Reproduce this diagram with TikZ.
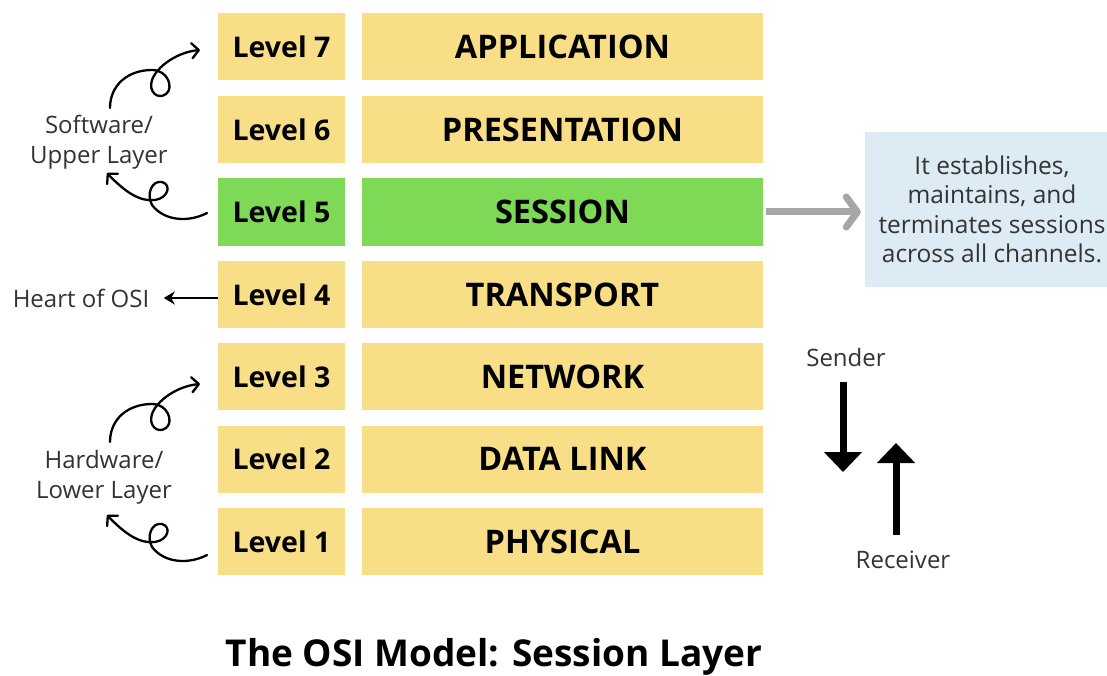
\documentclass[tikz,border=0pt]{standalone}
\usepackage{fontspec}
\setmainfont{Open Sans}
\usetikzlibrary{arrows.meta}
\definecolor{lvlyellow}{HTML}{F8DF87}
\definecolor{lvlgreen}{HTML}{7ED957}
\definecolor{notebg}{HTML}{DDEBF5}
\definecolor{txtgray}{HTML}{333333}
\definecolor{arrgray}{HTML}{A6A6A6}
\tikzset{
  curl/.style={line width=2.3pt, line cap=round, -{Straight Barb[length=7pt,width=15pt,round]}},
  upcurl/.pic={\draw[curl] (0,0) .. controls (0,-23) and (18,-38) .. (42,-38)
      .. controls (58,-38) and (64,-20) .. (56,-14)
      .. controls (48,-8) and (38,-16) .. (42,-28)
      .. controls (47,-42) and (68,-56) .. (90,-58);},
  downcurl/.pic={\draw[curl] (0,0) .. controls (-17,9) and (-42,9) .. (-55,-8)
      .. controls (-61,-19) and (-55,-33) .. (-45,-31)
      .. controls (-35,-28) and (-39,-15) .. (-52,-13)
      .. controls (-67,-11) and (-82,-21) .. (-100,-40);},
}
\begin{document}
\begin{tikzpicture}[x=1pt,y=-1pt,
  layer/.style={fill=lvlyellow, minimum height=67pt, inner sep=0pt},
  lvl/.style={layer, minimum width=127pt, font=\bfseries\fontsize{28.5}{32}\selectfont},
  lname/.style={layer, minimum width=401pt, font=\bfseries\fontsize{32.5}{36}\selectfont},
  active/.style={fill=lvlgreen},
  side/.style={font=\fontsize{24}{30}\selectfont, text=txtgray, align=center},
]
\useasboundingbox (0,0) rectangle (1107,676);
\fill[white] (0,0) rectangle (1107,676);

% level column and layer names
\node[lvl] (l7) at (281.5,47) {Level 7};
\node[lname] (n7) at (562.5,47) {APPLICATION};
\node[lvl] (l6) at (281.5,129.5) {Level 6};
\node[lname] (n6) at (562.5,129.5) {PRESENTATION};
\node[lvl,active] (l5) at (281.5,212) {Level 5};
\node[lname,active] (n5) at (562.5,212) {SESSION};
\node[lvl] (l4) at (281.5,294.5) {Level 4};
\node[lname] (n4) at (562.5,294.5) {TRANSPORT};
\node[lvl] (l3) at (281.5,376.5) {Level 3};
\node[lname] (n3) at (562.5,376.5) {NETWORK};
\node[lvl] (l2) at (281.5,459) {Level 2};
\node[lname] (n2) at (562.5,459) {DATA LINK};
\node[lvl] (l1) at (281.5,541.5) {Level 1};
\node[lname] (n1) at (562.5,541.5) {PHYSICAL};

% description of the session layer
\node[fill=notebg, minimum width=254pt, minimum height=155pt, align=center,
  font=\fontsize{24.5}{29.3}\selectfont, text=txtgray] (note) at (992,209.5)
  {It establishes,\\maintains, and\\terminates sessions\\across all channels.};
\draw[arrgray, line width=7pt, -{Straight Barb[length=11pt,width=30pt,round]}]
  (n5.east) ++(3,0) -- ([xshift=-4pt]note.west |- n5.east);

% side labels
\node[side] (sw) at (99,142) {Software/\\Upper Layer};
\node[side] (hw) at (104,477) {Hardware/\\Lower Layer};
\pic at (110,108) {upcurl};
\pic at (207,213) {downcurl};
\pic at (110,442) {upcurl};
\pic at (207,555) {downcurl};

\node[side] (heart) at (81,298) {Heart of OSI};
\draw[line width=2.8pt, -{Stealth[length=11pt,width=13pt]}]
  ([yshift=-3.5pt]l4.west) -- ([yshift=-3.5pt,xshift=11pt]l4.west -| heart.east);

% direction of data flow
\node[side] (snd) at (846,357) {Sender};
\node[side] (rcv) at (903,560) {Receiver};
\coordinate (sndA) at (843,382);
\coordinate (sndB) at (843,472);
\coordinate (rcvA) at (896,535);
\coordinate (rcvB) at (896,443);
\draw[line width=7pt, -{Triangle[length=20pt,width=37pt]}] (sndA) -- (sndB);
\draw[line width=7pt, -{Triangle[length=20pt,width=37pt]}] (rcvA) -- (rcvB);

% title
\node[font=\bfseries\fontsize{37}{42}\selectfont] (title) at (494,657)
  {The OSI Model: Session Layer};
\end{tikzpicture}
\end{document}
